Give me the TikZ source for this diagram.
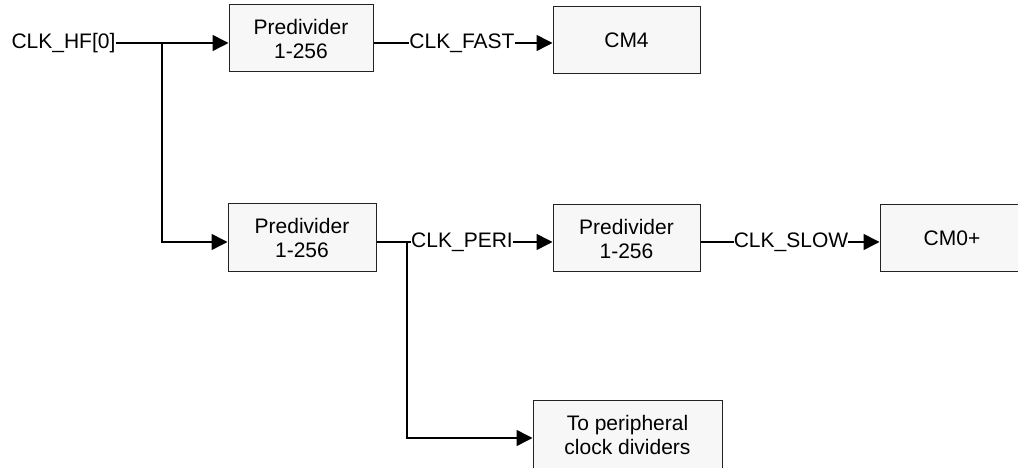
\documentclass[tikz,border=0pt]{standalone}
\usepackage{fontspec}
\setmainfont{Liberation Sans}
\usetikzlibrary{arrows.meta}
\definecolor{boxfill}{HTML}{F7F7F7}
\definecolor{boxline}{HTML}{222222}
\begin{document}
\begin{tikzpicture}[x=1bp,y=-1bp,
  font=\fontsize{21bp}{24bp}\selectfont,
  blk/.style={draw=boxline, fill=boxfill, line width=1bp, align=center, inner sep=0pt},
  lbl/.style={inner sep=0pt, anchor=center},
  wire/.style={line width=1.5bp, draw=black},
  arr/.style={wire, -{Triangle[length=16bp,width=16bp]}}]
\useasboundingbox (0,0) rectangle (1018,468);
% blocks
\node[blk, minimum width=144bp, minimum height=67bp] (p1) at (301,38.5) {Predivider\\1-256};
\node[blk, minimum width=147bp, minimum height=67bp] (cm4) at (626.5,40.5) {CM4};
\node[blk, minimum width=148bp, minimum height=68bp] (p2) at (302,238) {Predivider\\1-256};
\node[blk, minimum width=147bp, minimum height=67bp] (p3) at (626.5,238.5) {Predivider\\1-256};
\node[blk, minimum width=144bp, minimum height=67bp] (cm0) at (952,238.5) {CM0+};
\node[blk, minimum width=189bp, minimum height=68bp] (per) at (627.5,435) {To peripheral\\clock dividers};
% labels
\node[lbl] (hf) at (63.5,43) {CLK\_HF[0]};
\node[lbl] (fast) at (462,43) {CLK\_FAST};
\node[lbl] (peri) at (462,242) {CLK\_PERI};
\node[lbl] (slow) at (791,242) {CLK\_SLOW};
% coordinates
\coordinate (j1) at (162,43);
\coordinate (j2) at (407,242);
% connectors
\draw[arr] (hf.east) -- (hf.east -| p1.west);
\draw[arr] (j1) |- (peri.west -| p2.west);
\draw[wire] (fast.west -| p1.east) -- (fast.west);
\draw[arr] (fast.east) -- (fast.east -| cm4.west);
\draw[wire] (peri.west -| p2.east) -- (peri.west);
\draw[arr] (peri.east) -- (peri.east -| p3.west);
\draw[wire] (slow.west -| p3.east) -- (slow.west);
\draw[arr] (slow.east) -- (slow.east -| cm0.west);
\draw[arr] (j2) |- ([yshift=-3bp]per.west);
\end{tikzpicture}
\end{document}
